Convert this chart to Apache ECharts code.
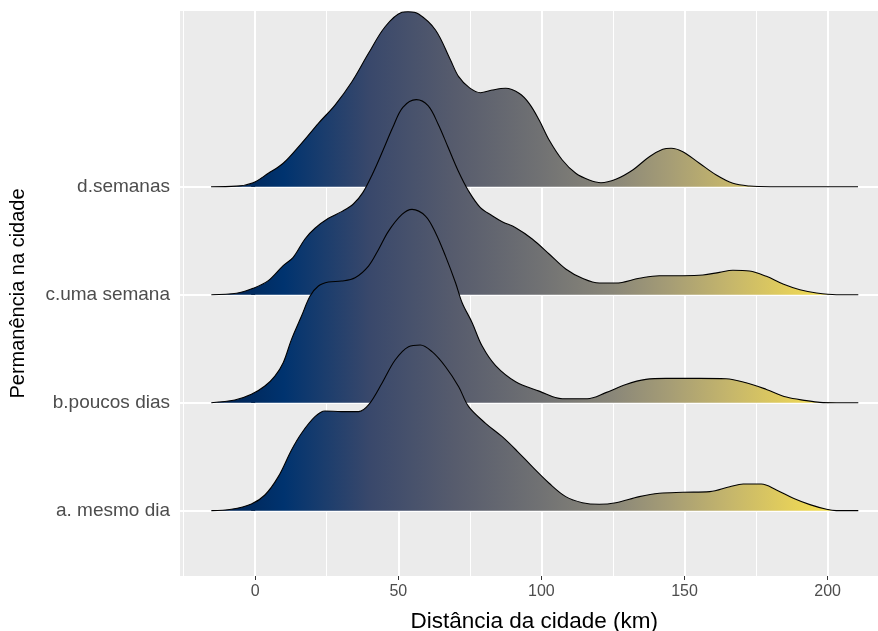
<!DOCTYPE html>
<html>
<head>
<meta charset="utf-8">
<script src="https://cdn.jsdelivr.net/npm/echarts@6/dist/echarts.min.js"></script>
<style>html,body{margin:0;padding:0;background:#fff}#c{width:878px;height:631px}</style>
</head>
<body>
<div id="c"></div>
<script>
// categories (bottom to top) and axis ticks
const categories = ['a. mesmo dia', 'b.poucos dias', 'c.uma semana', 'd.semanas'];
const xTicks = [0, 50, 100, 150, 200];
const xMinorGrid = [-25, 25, 75, 125, 175];

// ridge densities (height in row units)
const xA = [-15.3,-8.3,-1.3,3.4,8.1,12.7,16.2,20.9,24.4,30.2,36.1,39.6,44.3,48.9,53.6,57.7,61.8,66.5,71.1,74.6,80.5,86.3,91.6,96.8,102.7,108.5,114.3,120.2,126,134.2,141.2,149.4,158.8,165.8,170.5,176.8,182.1,188,193.8,199.6,203,210.7];
const hA = [0,0.013,0.062,0.145,0.315,0.562,0.717,0.870,0.923,0.917,0.917,0.979,1.18,1.395,1.519,1.534,1.472,1.333,1.148,0.963,0.809,0.685,0.55,0.407,0.254,0.130,0.074,0.059,0.074,0.130,0.161,0.170,0.176,0.222,0.247,0.247,0.192,0.115,0.056,0.013,0,0];

const xB = [-15.3,-7.1,-1.3,3.4,6.9,9.8,12.7,16.2,19.2,22.1,25.6,30.2,34.9,39.6,43.1,46.6,51.3,54.8,59.5,63,66.5,70,72.3,75.8,79.3,84,91,99.2,107.3,116,122.5,129.5,136.5,143.5,155.2,164.5,171.5,178.6,185.6,192.6,197.3,203,210.7];
const hB = [0,0.024,0.077,0.154,0.246,0.370,0.586,0.802,0.987,1.080,1.117,1.126,1.157,1.265,1.419,1.589,1.743,1.79,1.728,1.574,1.357,1.111,0.926,0.741,0.524,0.343,0.194,0.107,0.037,0.037,0.093,0.169,0.216,0.225,0.225,0.222,0.185,0.123,0.052,0.019,0.003,0,0];

const xC = [-15.3,-6.5,-0.7,4.6,9.8,13.3,17.4,20.9,25.6,30.2,34.3,37.6,41,44.6,48.1,51.6,56.3,60.4,63.9,67.4,70.9,74.5,78.6,82.8,86.3,91,96.8,102.7,108.5,114.3,120.2,126,134.2,141.2,149.4,156.4,162.2,166.9,172.7,178.6,184.4,190.3,196.1,203,210.7];
const hC = [0,0.013,0.059,0.130,0.269,0.346,0.516,0.615,0.707,0.769,0.840,0.945,1.118,1.333,1.55,1.735,1.806,1.75,1.581,1.365,1.148,0.963,0.809,0.731,0.676,0.620,0.516,0.377,0.238,0.152,0.108,0.108,0.152,0.176,0.176,0.182,0.207,0.226,0.219,0.170,0.099,0.046,0.016,0,0];

const xD = [-15.4,-6.6,-0.7,4.6,9.8,16.2,22.1,27.9,33.8,39.6,45.4,51.3,53.4,57.1,63,68.2,71.1,74.8,78.7,82.8,87.5,92.2,95.7,99.2,102.7,107.3,112,116.7,120.8,126,131.9,137.7,142.4,145.3,149.4,155.2,161.1,166.9,172.7,180,210.6];
const hD = [0,0.005,0.037,0.124,0.217,0.402,0.587,0.756,0.972,1.235,1.481,1.615,1.62,1.599,1.451,1.176,1.019,0.917,0.870,0.895,0.911,0.865,0.772,0.618,0.432,0.247,0.124,0.062,0.037,0.069,0.155,0.278,0.346,0.356,0.324,0.217,0.108,0.031,0.006,0,0];

// cividis fill gradient anchored at x values
const fillX = [-15, 10, 40, 70, 99, 125, 145, 165, 187, 210];
const fillColors = ['#00204D','#00336F','#39486B','#575C6D','#707173','#8A8779','#A69D75','#C4B56C','#E4CF5B','#FFEA46'];

const ridges = [
  {x: xD, h: hD, row: 4},
  {x: xC, h: hC, row: 3},
  {x: xB, h: hB, row: 2},
  {x: xA, h: hA, row: 1}
];

function gradientFor(xs) {
  const lo = xs[0], hi = xs[xs.length - 1];
  return {
    type: 'linear', x: 0, y: 0, x2: 1, y2: 0, global: false,
    colorStops: fillX.map((v, i) => ({offset: Math.min(1, Math.max(0, (v - lo) / (hi - lo))), color: fillColors[i]}))
  };
}

const series = [];
// gridlines helper (under the ridges)
series.push({
  type: 'line', data: [], z: 0, silent: true, animation: false,
  markLine: {
    z: 0, zlevel: 0,
    silent: true, symbol: ['none', 'none'], label: {show: false}, animation: false,
    data: [
      ...xMinorGrid.map(v => ({xAxis: v, lineStyle: {color: '#FFFFFF', width: 1, type: 'solid'}})),
      ...xTicks.map(v => ({xAxis: v, lineStyle: {color: '#FFFFFF', width: 2, type: 'solid'}})),
      ...categories.map((c, i) => ({yAxis: i + 1, lineStyle: {color: '#FFFFFF', width: 2, type: 'solid'}}))
    ]
  }
});
ridges.forEach(r => {
  series.push({
    type: 'line',
    data: r.x.map((v, i) => [v, r.row + r.h[i]]),
    smooth: 0.35,
    symbol: 'none',
    z: 3,
    lineStyle: {color: '#000000', width: 1.1},
    areaStyle: {origin: r.row, color: gradientFor(r.x), opacity: 1},
    animation: false
  });
});

const chart = echarts.init(document.getElementById('c'));
chart.setOption({
  animation: false,
  textStyle: {fontFamily: 'Liberation Sans'},
  grid: {left: 180, right: -10.5, top: 11, bottom: 55, show: true, backgroundColor: '#EBEBEB', borderWidth: 0, containLabel: false, outerBoundsMode: 'none'},
  xAxis: {
    type: 'value', min: -26.25, max: 221.25,
    name: 'Distância da cidade (km)', nameLocation: 'middle', nameGap: 46,
    nameTextStyle: {fontSize: 22.5, color: '#000000', fontFamily: 'Liberation Sans', verticalAlign: 'middle'},
    axisLine: {show: false},
    axisTick: {show: true, customValues: xTicks, length: 4, lineStyle: {color: '#333333', width: 1}},
    axisLabel: {customValues: xTicks, color: '#4D4D4D', fontSize: 16, margin: 8},
    splitLine: {show: false}
  },
  yAxis: {
    type: 'value', min: 0.395, max: 5.627,
    name: 'Permanência na cidade', nameLocation: 'middle', nameGap: 162, nameRotate: 90,
    nameTextStyle: {fontSize: 20, color: '#000000', fontFamily: 'Liberation Sans', verticalAlign: 'middle'},
    axisLine: {show: false},
    axisTick: {show: true, customValues: [1, 2, 3, 4], length: 4, lineStyle: {color: '#333333', width: 1}},
    axisLabel: {customValues: [1, 2, 3, 4], formatter: v => categories[Math.round(v) - 1], color: '#4D4D4D', fontSize: 19, margin: 10},
    splitLine: {show: false}
  },
  series: series
});
</script>
</body>
</html>
